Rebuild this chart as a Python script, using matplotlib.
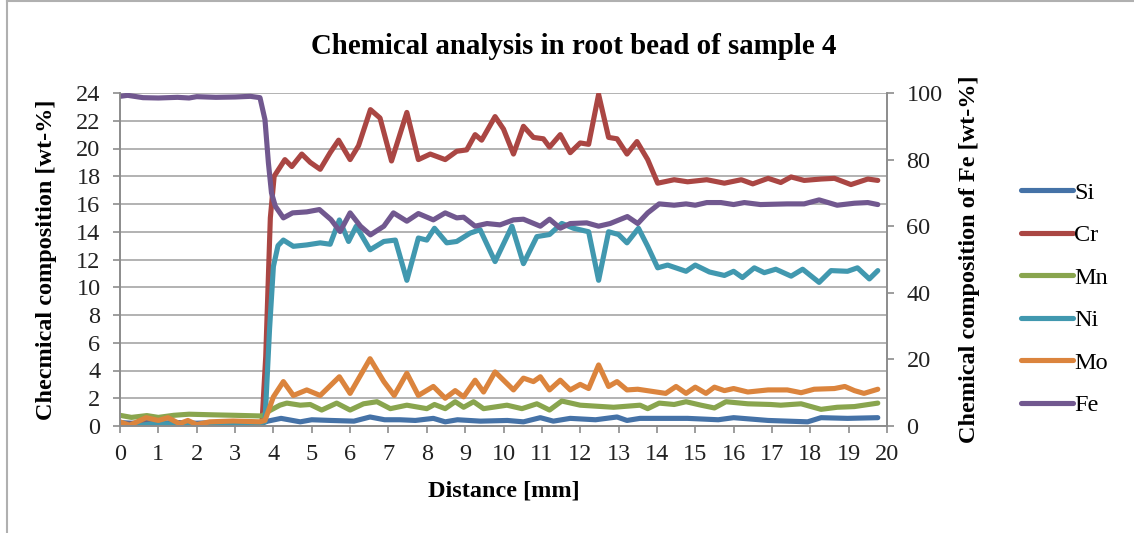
"""Chemical analysis in root bead of sample 4 - line profile across the weld."""

import matplotlib
matplotlib.use('Agg')
import matplotlib.pyplot as plt  # pylint: disable=wrong-import-position
from matplotlib.lines import Line2D  # pylint: disable=wrong-import-position

plt.rcParams['font.family'] = ['Liberation Serif', 'DejaVu Serif']

# (distance [mm], wt-%) read from the profile
SI = [(0, 0.25), (0.3, 0.2), (0.7, 0.25), (1.0, 0.2), (1.5, 0.25), (2.0, 0.2), (2.5, 0.25),
      (3.0, 0.2), (3.5, 0.25), (3.7, 0.2), (3.85, 0.35), (4.2, 0.55), (4.7, 0.3), (5.0, 0.45),
      (5.5, 0.4), (6.1, 0.35), (6.52, 0.65), (6.9, 0.45), (7.3, 0.45), (7.7, 0.4), (8.17, 0.55),
      (8.48, 0.3), (8.8, 0.45), (9.4, 0.35), (10.1, 0.4), (10.52, 0.3), (10.96, 0.6), (11.3, 0.35),
      (11.74, 0.55), (12.4, 0.45), (12.96, 0.65), (13.22, 0.4), (13.56, 0.55), (14.02, 0.55),
      (14.8, 0.55), (15.6, 0.45), (16.0, 0.6), (16.9, 0.4), (17.93, 0.3), (18.28, 0.6),
      (18.97, 0.55), (19.76, 0.6)]

CR = [(0, 0.1), (0.5, 0.15), (1.0, 0.1), (1.5, 0.0), (2.0, 0.1), (2.5, 0.05), (3.0, 0.1),
      (3.5, 0.1), (3.7, 0.1), (3.8, 5.0), (3.92, 15.0), (4.02, 18.0), (4.3, 19.2), (4.48, 18.7),
      (4.74, 19.6), (4.96, 19.0), (5.22, 18.5), (5.48, 19.7), (5.7, 20.6), (6.0, 19.2),
      (6.22, 20.2), (6.53, 22.8), (6.78, 22.2), (7.08, 19.1), (7.48, 22.6), (7.78, 19.2),
      (8.09, 19.6), (8.48, 19.2), (8.78, 19.8), (9.04, 19.9), (9.26, 21.0), (9.43, 20.6),
      (9.78, 22.3), (10.0, 21.4), (10.26, 19.6), (10.52, 21.6), (10.78, 20.8), (11.04, 20.7),
      (11.2, 20.1), (11.48, 21.0), (11.74, 19.7), (12.0, 20.4), (12.22, 20.3), (12.48, 23.9),
      (12.74, 20.8), (12.96, 20.7), (13.22, 19.6), (13.48, 20.5), (13.76, 19.2), (14.02, 17.5),
      (14.45, 17.75), (14.8, 17.6), (15.3, 17.75), (15.76, 17.5), (16.2, 17.75), (16.5, 17.45),
      (16.9, 17.85), (17.23, 17.55), (17.5, 17.95), (17.84, 17.7), (18.28, 17.8), (18.63, 17.85),
      (19.06, 17.4), (19.5, 17.8), (19.76, 17.7)]

MN = [(0, 0.77), (0.3, 0.62), (0.7, 0.75), (1.0, 0.62), (1.4, 0.77), (1.8, 0.85), (2.5, 0.8),
      (3.0, 0.77), (3.7, 0.72), (3.9, 1.1), (4.17, 1.5), (4.35, 1.65), (4.7, 1.5), (4.96, 1.55),
      (5.26, 1.15), (5.65, 1.65), (6.0, 1.15), (6.35, 1.6), (6.7, 1.75), (7.05, 1.25),
      (7.48, 1.5), (8.0, 1.25), (8.2, 1.55), (8.48, 1.25), (8.74, 1.75), (8.96, 1.35),
      (9.22, 1.75), (9.48, 1.25), (10.09, 1.5), (10.48, 1.25), (10.87, 1.6), (11.2, 1.15),
      (11.52, 1.8), (12.0, 1.5), (12.87, 1.35), (13.56, 1.5), (13.76, 1.25), (14.06, 1.65),
      (14.45, 1.55), (14.76, 1.75), (15.15, 1.5), (15.5, 1.3), (15.8, 1.75), (16.37, 1.6),
      (16.97, 1.55), (17.23, 1.5), (17.76, 1.6), (18.28, 1.2), (18.7, 1.35), (19.15, 1.4),
      (19.76, 1.65)]

NI = [(0, 0.1), (0.5, 0.05), (1.0, 0.2), (1.5, 0.1), (2.0, 0.0), (2.5, 0.1), (3.0, 0.05),
      (3.5, 0.1), (3.78, 0.3), (3.9, 7.0), (4.0, 11.5), (4.12, 13.0), (4.26, 13.4), (4.52, 12.95),
      (4.87, 13.05), (5.22, 13.2), (5.48, 13.1), (5.72, 14.85), (5.96, 13.3), (6.16, 14.4),
      (6.52, 12.7), (6.88, 13.3), (7.18, 13.4), (7.48, 10.5), (7.78, 13.55), (8.0, 13.4),
      (8.2, 14.25), (8.52, 13.2), (8.78, 13.3), (9.13, 13.9), (9.39, 14.15), (9.78, 11.85),
      (10.22, 14.4), (10.52, 11.7), (10.87, 13.65), (11.2, 13.8), (11.52, 14.6), (11.83, 14.25),
      (12.22, 14.0), (12.48, 10.5), (12.74, 14.0), (13.0, 13.8), (13.22, 13.2), (13.52, 14.25),
      (13.76, 12.95), (14.02, 11.4), (14.28, 11.6), (14.76, 11.15), (15.0, 11.6), (15.37, 11.1),
      (15.76, 10.85), (16.0, 11.15), (16.23, 10.7), (16.54, 11.4), (16.8, 11.05), (17.1, 11.3),
      (17.5, 10.8), (17.8, 11.3), (18.23, 10.35), (18.54, 11.2), (18.97, 11.15), (19.23, 11.4),
      (19.54, 10.6), (19.76, 11.2)]

MO = [(0, 0.3), (0.25, 0.05), (0.68, 0.6), (1.0, 0.4), (1.25, 0.6), (1.55, 0.17), (1.77, 0.4),
      (2.0, 0.1), (2.34, 0.3), (2.95, 0.36), (3.65, 0.3), (3.78, 0.4), (4.0, 2.1), (4.26, 3.2),
      (4.52, 2.2), (4.87, 2.6), (5.22, 2.2), (5.72, 3.55), (6.0, 2.35), (6.52, 4.85), (6.88, 3.2),
      (7.15, 2.2), (7.48, 3.8), (7.78, 2.2), (8.17, 2.85), (8.48, 2.0), (8.74, 2.55), (8.96, 2.1),
      (9.26, 3.3), (9.48, 2.45), (9.78, 3.9), (10.26, 2.6), (10.52, 3.45), (10.78, 3.2),
      (10.96, 3.55), (11.2, 2.6), (11.48, 3.3), (11.74, 2.6), (12.0, 3.0), (12.22, 2.7),
      (12.48, 4.4), (12.74, 2.85), (12.96, 3.2), (13.22, 2.6), (13.5, 2.65), (14.23, 2.35),
      (14.5, 2.85), (14.76, 2.35), (15.0, 2.8), (15.28, 2.35), (15.5, 2.8), (15.76, 2.55),
      (16.0, 2.7), (16.37, 2.45), (16.9, 2.6), (17.4, 2.6), (17.76, 2.4), (18.1, 2.65),
      (18.63, 2.7), (18.9, 2.85), (19.15, 2.55), (19.4, 2.35), (19.76, 2.65)]

# Fe is plotted on the secondary axis (0-100 wt-%)
FE = [(0, 99.0), (0.2, 99.3), (0.6, 98.6), (1.0, 98.5), (1.5, 98.7), (1.8, 98.5), (2.0, 98.9),
      (2.5, 98.7), (3.0, 98.8), (3.4, 99.0), (3.65, 98.6), (3.78, 92.0), (3.87, 79.0),
      (3.95, 70.0), (4.05, 66.0), (4.26, 62.5), (4.5, 64.0), (4.87, 64.3), (5.2, 65.0),
      (5.5, 62.0), (5.74, 58.4), (6.0, 64.0), (6.27, 60.0), (6.53, 57.4), (6.88, 60.0),
      (7.13, 64.0), (7.48, 61.5), (7.78, 63.8), (8.17, 61.9), (8.48, 64.0), (8.78, 62.5),
      (8.96, 62.7), (9.26, 60.0), (9.57, 60.8), (9.91, 60.4), (10.26, 61.9), (10.52, 62.1),
      (10.96, 60.0), (11.2, 62.1), (11.48, 59.4), (11.74, 60.8), (12.17, 61.0), (12.48, 60.0),
      (12.78, 60.8), (13.23, 62.9), (13.5, 60.8), (13.76, 64.0), (14.06, 66.7), (14.45, 66.3),
      (14.76, 66.7), (15.0, 66.3), (15.3, 67.1), (15.67, 67.1), (16.0, 66.5), (16.28, 67.1),
      (16.7, 66.5), (17.4, 66.7), (17.84, 66.7), (18.23, 67.9), (18.7, 66.3), (19.15, 66.9),
      (19.5, 67.1), (19.76, 66.5)]

LEFT_SERIES = [("Si", SI, '#4572A7'), ("Cr", CR, '#AA4643'), ("Mn", MN, '#89A54E'),
               ("Ni", NI, '#4198AF'), ("Mo", MO, '#DB843D')]
FE_COLOR = '#71588F'
GRID = '#a6a6a6'
SPINE = '#8c8c8c'
FS = 17.5
LW = 3.7

fig = plt.figure(figsize=(11.34, 5.33), dpi=100)
ax = fig.add_axes([120 / 1134, 1 - 426 / 533, 767 / 1134, 333 / 533])
ax2 = ax.twinx()

handles = []
for name, pts, color in LEFT_SERIES:
    xs = [p[0] for p in pts]
    ys = [p[1] for p in pts]
    ax.plot(xs, ys, color=color, lw=LW, solid_joinstyle='round', solid_capstyle='round')
    handles.append(Line2D([], [], color=color, lw=LW, solid_capstyle='round', label=name))

ax2.plot([p[0] for p in FE], [p[1] for p in FE], color=FE_COLOR, lw=LW,
         solid_joinstyle='round', solid_capstyle='round')
handles.append(Line2D([], [], color=FE_COLOR, lw=LW, solid_capstyle='round', label="Fe"))

ax.set_xlim(0, 20)
ax.set_ylim(0, 24)
ax2.set_ylim(0, 100)
ax.set_xticks(range(0, 21))
ax.set_yticks(range(0, 25, 2))
ax2.set_yticks(range(0, 101, 20))
ax.grid(axis='y', color=GRID, lw=1.2)
ax.set_axisbelow(True)

for a in (ax, ax2):
    for side in ('left', 'right', 'bottom'):
        a.spines[side].set_color(SPINE)
        a.spines[side].set_linewidth(1.2)
    a.spines['top'].set_visible(False)
    a.tick_params(colors=SPINE, labelcolor='#222222', labelsize=FS, width=1.2, length=5)
ax.tick_params(axis='x', pad=8)
ax.tick_params(axis='y', pad=9)
ax2.tick_params(axis='y', pad=9)

ax.set_xlabel('Distance [mm]', fontsize=FS, fontweight='bold', labelpad=11)
ax.set_ylabel('Checmical composition [wt-%]', fontsize=FS, fontweight='bold', labelpad=14)
ax2.set_ylabel('Chemical composition of Fe [wt-%]', fontsize=FS, fontweight='bold', labelpad=12)

fig.text(574 / 1134, 1 - 46 / 533, 'Chemical analysis in root bead of sample 4',
         ha='center', va='center', fontsize=20.8, fontweight='bold')

fig.legend(handles=handles, loc='center left', bbox_to_anchor=(1021 / 1134, 1 - 299 / 533),
           frameon=False, fontsize=FS, handlelength=2.15, handletextpad=0.05,
           labelspacing=0.84, borderpad=0, borderaxespad=0)

# chart-area border (top and left edges visible in the crop)
fig.add_artist(Line2D([7 / 1134, 7 / 1134], [0, 1 - 1 / 533], color='#b0b0b0', lw=1.5))
fig.add_artist(Line2D([7 / 1134, 1], [1 - 1 / 533, 1 - 1 / 533], color='#b0b0b0', lw=1.5))

fig.savefig('out.png', dpi=100)
plt.close(fig)
